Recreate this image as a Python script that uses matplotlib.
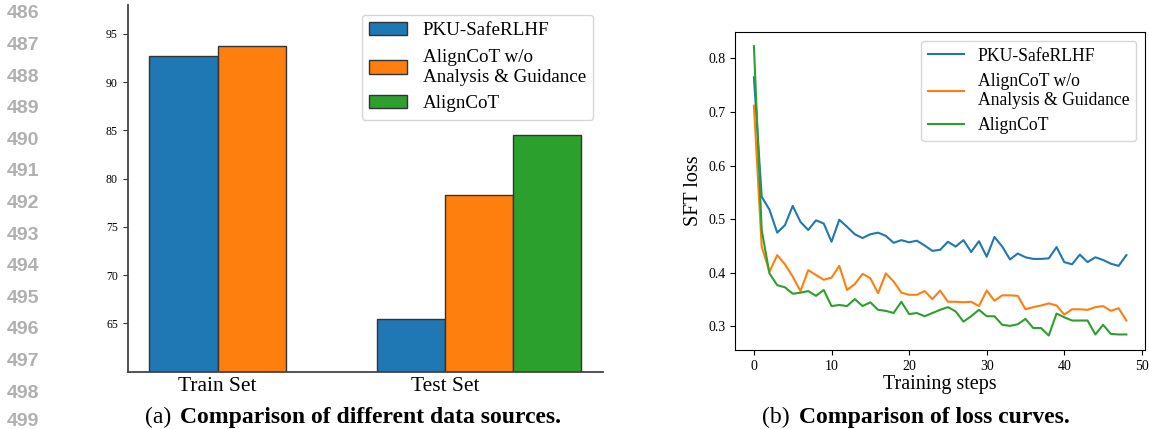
import numpy as np
import matplotlib
matplotlib.use("Agg")
import matplotlib.pyplot as plt

# ---------------- data ----------------
categories = ["Train Set", "Test Set"]
series_names = ["PKU-SafeRLHF", "AlignCoT w/o\nAnalysis & Guidance", "AlignCoT"]
pku_bar = [92.7, 65.5]
wo_bar = [93.8, 78.3]
aligncot_bar = [np.nan, 84.5]
bar_yticks = [65, 70, 75, 80, 85, 90, 95]

steps = list(range(49))
pku_loss = [0.765, 0.542, 0.518, 0.475, 0.489, 0.525, 0.495, 0.480, 0.498, 0.492,
            0.458, 0.499, 0.486, 0.472, 0.465, 0.472, 0.475, 0.469, 0.456, 0.461,
            0.457, 0.460, 0.451, 0.441, 0.443, 0.458, 0.449, 0.461, 0.439, 0.459,
            0.430, 0.467, 0.449, 0.425, 0.436, 0.429, 0.426, 0.426, 0.427, 0.448,
            0.420, 0.416, 0.434, 0.420, 0.429, 0.424, 0.417, 0.413, 0.433]
wo_loss = [0.712, 0.449, 0.402, 0.433, 0.416, 0.393, 0.366, 0.405, 0.396, 0.387,
           0.391, 0.413, 0.368, 0.379, 0.398, 0.390, 0.362, 0.399, 0.384, 0.363,
           0.359, 0.359, 0.366, 0.351, 0.367, 0.346, 0.346, 0.345, 0.346, 0.338,
           0.367, 0.348, 0.358, 0.358, 0.357, 0.332, 0.336, 0.339, 0.343, 0.339,
           0.322, 0.332, 0.332, 0.331, 0.336, 0.338, 0.329, 0.334, 0.311]
aligncot_loss = [0.823, 0.480, 0.399, 0.377, 0.373, 0.361, 0.363, 0.366, 0.357, 0.368,
                 0.338, 0.340, 0.338, 0.351, 0.338, 0.345, 0.331, 0.329, 0.325, 0.346,
                 0.323, 0.325, 0.319, 0.325, 0.331, 0.336, 0.328, 0.309, 0.319, 0.331,
                 0.319, 0.319, 0.303, 0.301, 0.304, 0.314, 0.297, 0.297, 0.283, 0.324,
                 0.317, 0.311, 0.311, 0.311, 0.285, 0.303, 0.286, 0.285, 0.285]
loss_xticks = [0, 10, 20, 30, 40, 50]
loss_yticks = [0.3, 0.4, 0.5, 0.6, 0.7, 0.8]

line_numbers = list(range(486, 500))
caption_a = ("(a)", "Comparison of different data sources.")
caption_b = ("(b)", "Comparison of loss curves.")

colors = ["#1f77b4", "#ff7f0e", "#2ca02c"]

plt.rcParams["font.family"] = ["Liberation Serif", "DejaVu Serif"]

W, H = 1149, 429
fig = plt.figure(figsize=(W / 100, H / 100), dpi=100)

def fx(px):
    return px / W

def fy(py):
    return 1 - py / H

# ---------------- left: bar chart ----------------
ax1 = fig.add_axes([fx(127.7), fy(371.7), fx(602.9) - fx(127.7), fy(5) - fy(371.7)])
w = 0.3
x = np.arange(len(categories))
for i, (vals, name) in enumerate(zip([pku_bar, wo_bar, aligncot_bar], series_names)):
    xs = [xi + i * w for xi, v in zip(x, vals) if not np.isnan(v)]
    vs = [v for v in vals if not np.isnan(v)]
    ax1.bar(xs, vs, width=w, color=colors[i], edgecolor="#333333", linewidth=1.0, label=name)
ax1.set_ylim(60, 98)
ax1.set_yticks(bar_yticks)
ax1.set_xticks(x + w / 2)
ax1.set_xticklabels(categories, fontsize=15.5)
ax1.tick_params(axis="x", length=0, pad=4)
ax1.tick_params(axis="y", labelsize=8.5, length=3.5, color="#333333")
for s in ["top", "right"]:
    ax1.spines[s].set_visible(False)
for s in ["left", "bottom"]:
    ax1.spines[s].set_color("#444444")
    ax1.spines[s].set_linewidth(1.3)
ax1.legend(loc="upper right", fontsize=13.7, labelspacing=0.5, handletextpad=0.8)

# ---------------- right: loss curves ----------------
ax2 = fig.add_axes([fx(735.3), fy(350), fx(1145) - fx(735.3), fy(31.7) - fy(350)])
for vals, name, c in zip([pku_loss, wo_loss, aligncot_loss], series_names, colors):
    ax2.plot(steps, vals, color=c, linewidth=1.5, label=name)
ax2.set_xticks(loss_xticks)
ax2.set_yticks(loss_yticks)
ax2.tick_params(labelsize=10)
ax2.set_xlabel("Training steps", fontsize=14.5, labelpad=2)
ax2.set_ylabel("SFT loss", fontsize=14.5)
ax2.legend(loc="upper right", fontsize=12.7, labelspacing=0.45, handletextpad=0.8)

# ---------------- captions ----------------
cap_y = fy(417)
fig.text(fx(145), cap_y, caption_a[0], fontsize=17, va="center", ha="left")
fig.text(fx(180), cap_y, caption_a[1], fontsize=17, fontweight="bold", va="center", ha="left")
fig.text(fx(761.7), cap_y, caption_b[0], fontsize=17, va="center", ha="left")
fig.text(fx(799.3), cap_y, caption_b[1], fontsize=17, fontweight="bold", va="center", ha="left")

# ---------------- line numbers ----------------
for k, n in enumerate(line_numbers):
    yc = min(14 + k * 31.6, 421.0)
    fig.text(fx(7), fy(yc), str(n), fontsize=14, fontweight="bold",
             family=["Liberation Sans", "DejaVu Sans"], color="#b0b0b0", va="center", ha="left")

fig.savefig("out.png", dpi=100)
